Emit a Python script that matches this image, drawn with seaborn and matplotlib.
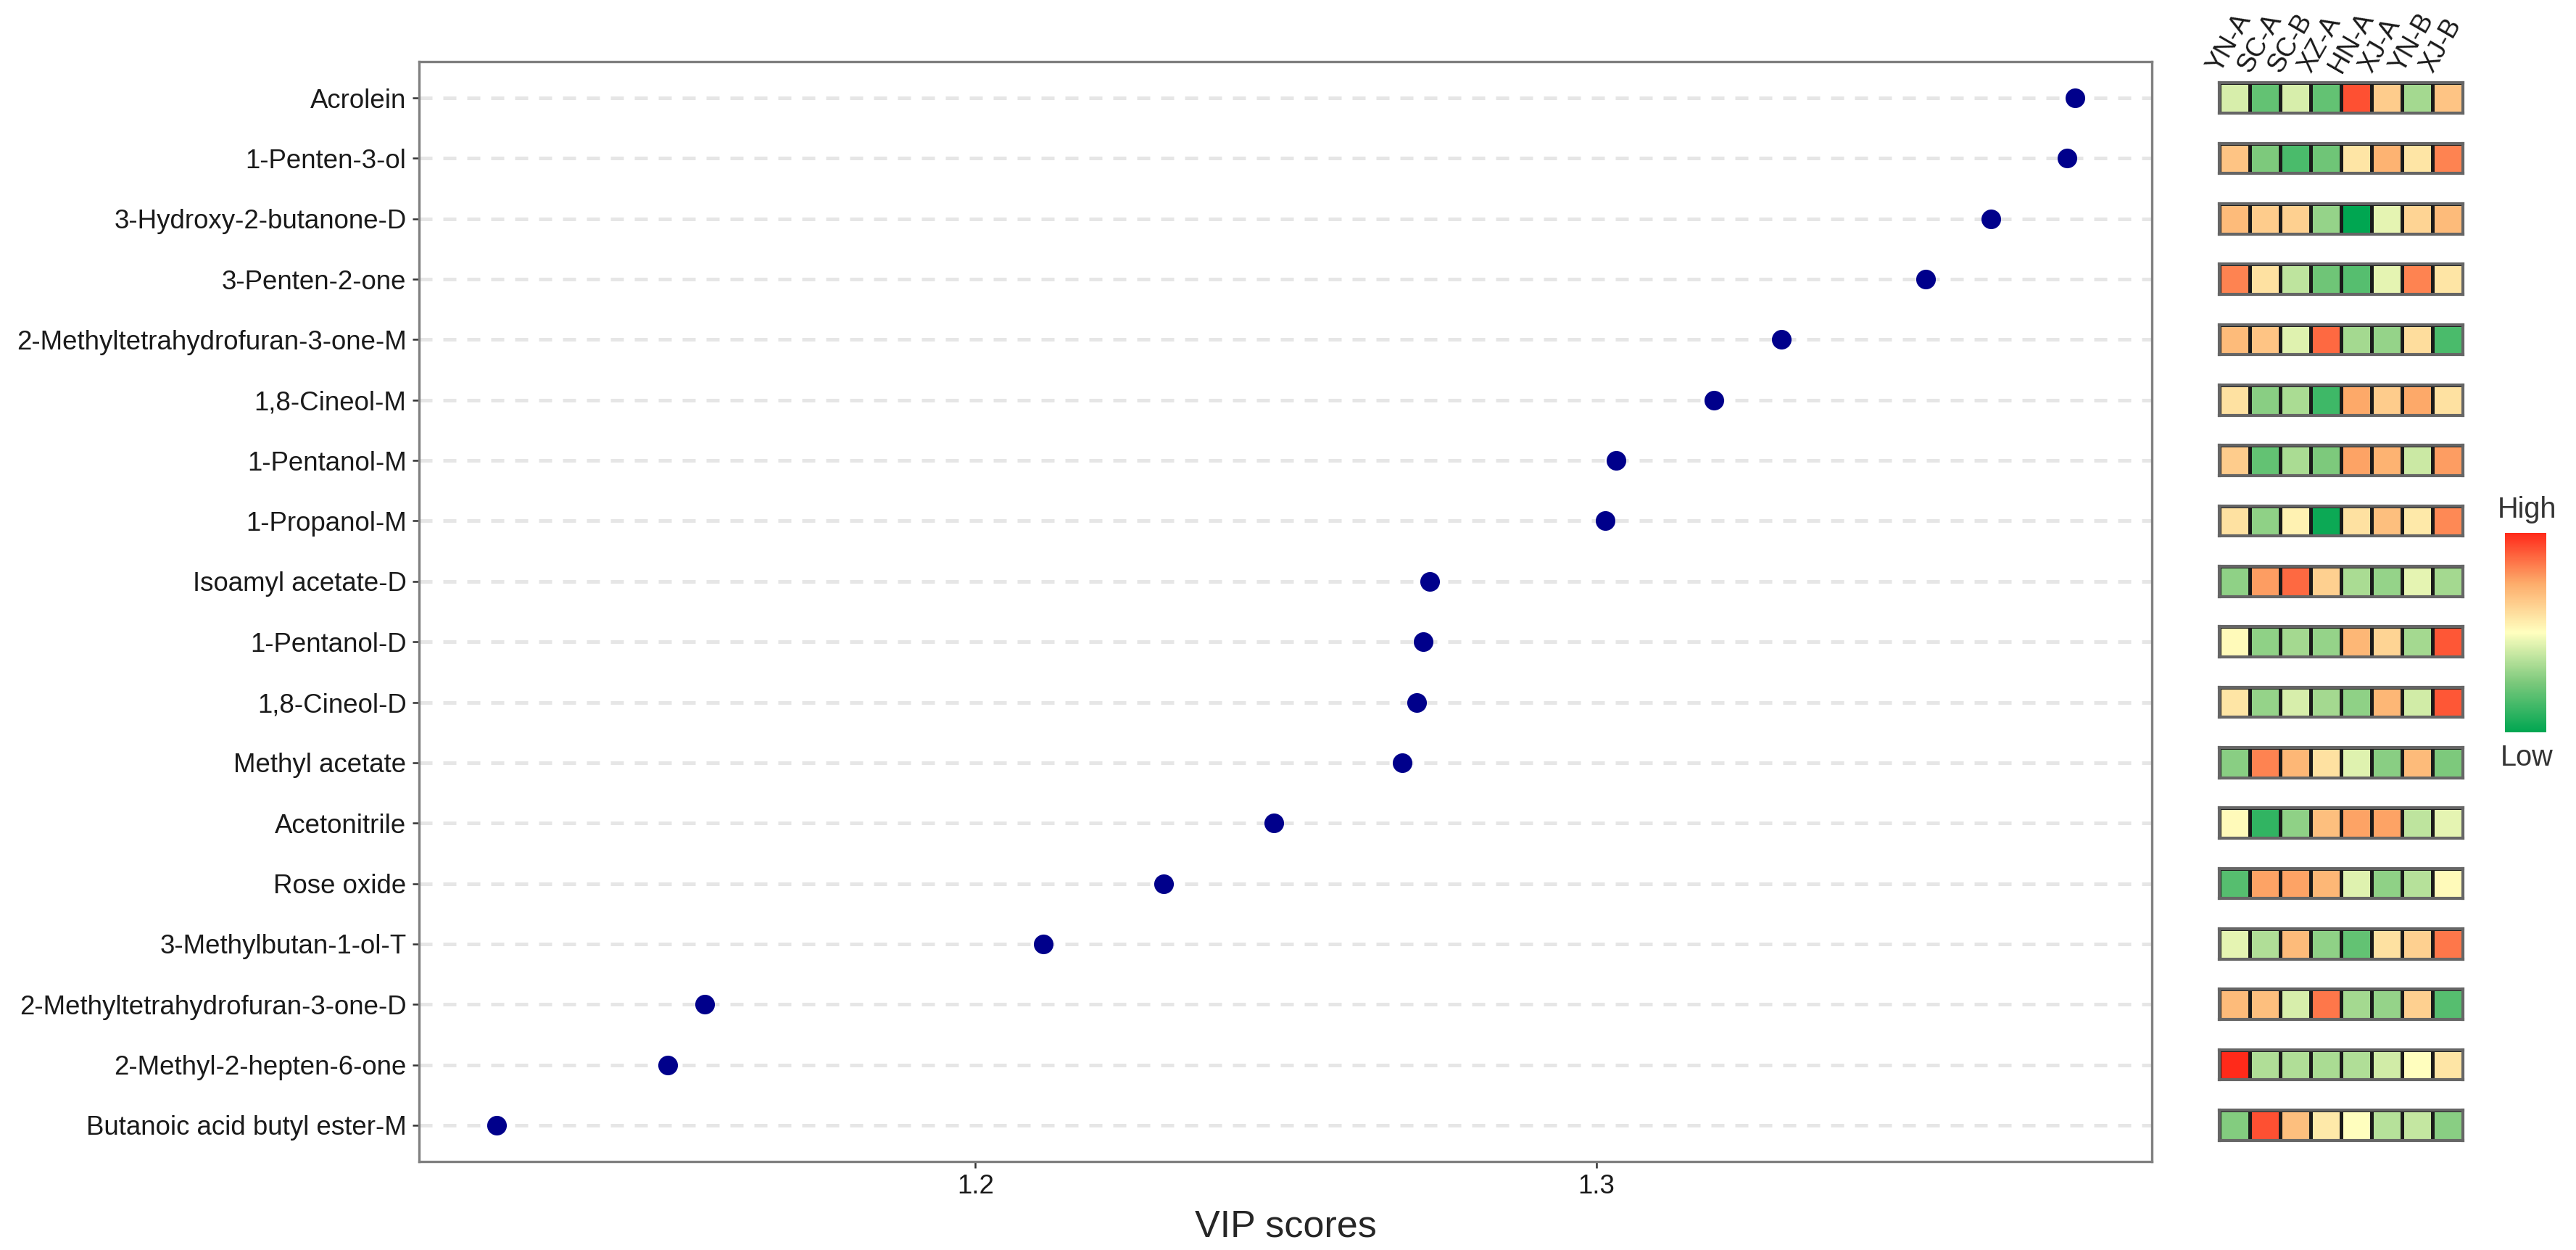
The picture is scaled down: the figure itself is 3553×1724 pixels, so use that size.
import numpy as np
import matplotlib
matplotlib.use('Agg')
import matplotlib.pyplot as plt
import seaborn as sns
from matplotlib.colors import LinearSegmentedColormap

# data
compounds = ['Acrolein', '1-Penten-3-ol', '3-Hydroxy-2-butanone-D', '3-Penten-2-one',
             '2-Methyltetrahydrofuran-3-one-M', '1,8-Cineol-M', '1-Pentanol-M', '1-Propanol-M',
             'Isoamyl acetate-D', '1-Pentanol-D', '1,8-Cineol-D', 'Methyl acetate',
             'Acetonitrile', 'Rose oxide', '3-Methylbutan-1-ol-T',
             '2-Methyltetrahydrofuran-3-one-D', '2-Methyl-2-hepten-6-one',
             'Butanoic acid butyl ester-M']
vip = [1.3771, 1.3758, 1.3636, 1.3531, 1.3298, 1.3190, 1.3032, 1.3015, 1.2732, 1.2721,
       1.2711, 1.2687, 1.2481, 1.2303, 1.2109, 1.1564, 1.1505, 1.1229]

groups = ['YN-A', 'SC-A', 'SC-B', 'XZ-A', 'HN-A', 'XJ-A', 'YN-B', 'XJ-B']

# relative abundance (scaled), one row per compound
heat = [
    [-0.3, -1.2, -0.3, -1.2, 1.7, 0.6, -0.7, 0.7],
    [0.7, -1.0, -1.4, -1.1, 0.3, 0.9, 0.3, 1.3],
    [0.8, 0.6, 0.55, -0.8, -2.0, -0.2, 0.5, 0.8],
    [1.3, 0.35, -0.5, -1.1, -1.3, -0.2, 1.3, 0.3],
    [0.8, 0.7, -0.25, 1.5, -0.7, -0.8, 0.4, -1.4],
    [0.35, -0.9, -0.65, -1.5, 1.0, 0.6, 1.0, 0.35],
    [0.6, -1.2, -0.65, -1.0, 1.05, 0.9, -0.4, 1.1],
    [0.35, -0.85, 0.15, -1.9, 0.35, 0.75, 0.25, 1.25],
    [-0.85, 1.1, 1.5, 0.55, -0.65, -0.8, -0.2, -0.7],
    [0.05, -0.85, -0.7, -0.8, 0.85, 0.5, -0.7, 1.65],
    [0.3, -0.8, -0.3, -0.7, -0.85, 0.85, -0.35, 1.65],
    [-0.9, 1.3, 0.85, 0.35, -0.25, -0.9, 0.8, -1.0],
    [0.05, -1.6, -0.85, 0.75, 1.05, 1.05, -0.5, -0.2],
    [-1.3, 1.05, 1.05, 0.85, -0.25, -0.85, -0.55, 0.05],
    [-0.2, -0.6, 0.8, -0.85, -1.2, 0.35, 0.55, 1.4],
    [0.8, 0.75, -0.3, 1.4, -0.7, -0.8, 0.55, -1.3],
    [2.0, -0.6, -0.6, -0.65, -0.6, -0.35, 0.0, 0.3],
    [-0.95, 1.7, 0.75, 0.25, 0.0, -0.55, -0.45, -0.9],
]

sns.set_style('white')
plt.rcParams['font.family'] = ['Liberation Sans', 'DejaVu Sans']
fs = 8.8

cmap = LinearSegmentedColormap.from_list(
    'lowhigh', [(0, '#00a651'), (0.25, '#7cc97c'), (0.5, '#ffffbf'),
                (0.75, '#fdab6a'), (1, '#ff2a1a')])

W, H = 3553, 1724
fig = plt.figure(figsize=(W / 300, H / 300), dpi=300)

ax = fig.add_axes([578 / W, 1 - 1602 / H, (2968 - 578) / W, (1602 - 85) / H])
sns.stripplot(x=vip, y=compounds, orient='h', jitter=False, color='#00008b',
              size=6.5, linewidth=0, ax=ax, zorder=3)
ax.set_xlim(1.1104, 1.3895)
ax.set_ylim(17.6, -0.6)
ax.set_xticks([1.2, 1.3])
ax.set_xticklabels(['1.2', '1.3'])
ax.yaxis.grid(True, linestyle=(0, (3.6, 3)), color='#e6e6e6', linewidth=1.2)
ax.xaxis.grid(False)
ax.set_axisbelow(True)
for s in ax.spines.values():
    s.set_visible(True)
    s.set_color('#808080')
    s.set_linewidth(0.8)
ax.tick_params(axis='both', which='both', length=2.2, width=0.6, color='#333333',
               labelsize=fs, labelcolor='#1a1a1a', pad=2, left=True, bottom=True)
ax.set_ylabel('')
ax.set_xlabel('VIP scores', fontsize=12.5, labelpad=3)

# heatmap strips, one per compound row, placed on the main y scale
to_fig = fig.transFigure.inverted()
x0, x1 = 3061 / W, 3397 / W
half = 0.25
heat_axes = []
for i, row in enumerate(heat):
    _, ytop = to_fig.transform(ax.transData.transform((1.2, i - half)))
    _, ybot = to_fig.transform(ax.transData.transform((1.2, i + half)))
    hax = fig.add_axes([x0, ybot, x1 - x0, ytop - ybot])
    sns.heatmap(np.array([row]), ax=hax, cmap=cmap, vmin=-2, vmax=2, cbar=False,
                linewidths=1.2, linecolor='#1a1a1a', xticklabels=False, yticklabels=False)
    for s in hax.spines.values():
        s.set_visible(True)
        s.set_color('#666666')
        s.set_linewidth(1.0)
    heat_axes.append(hax)

for j, g in enumerate(groups):
    heat_axes[0].text(j + 0.5 - 0.7, -0.4, g, rotation=60, ha='left', va='center',
                      rotation_mode='anchor', fontsize=8.8, color='#1a1a1a')

# colour key
cax = fig.add_axes([3455 / W, 1 - 1010 / H, (3512 - 3455) / W, (1010 - 735) / H])
sm = plt.cm.ScalarMappable(cmap=cmap, norm=plt.Normalize(-2, 2))
cb = fig.colorbar(sm, cax=cax)
cb.set_ticks([])
cb.outline.set_visible(False)
fig.text(3485 / W, 1 - 703 / H, 'High', ha='center', va='center', fontsize=9.5,
         color='#333333')
fig.text(3485 / W, 1 - 1045 / H, 'Low', ha='center', va='center', fontsize=9.5,
         color='#333333')

fig.savefig('out.png', dpi=300, facecolor='white')
